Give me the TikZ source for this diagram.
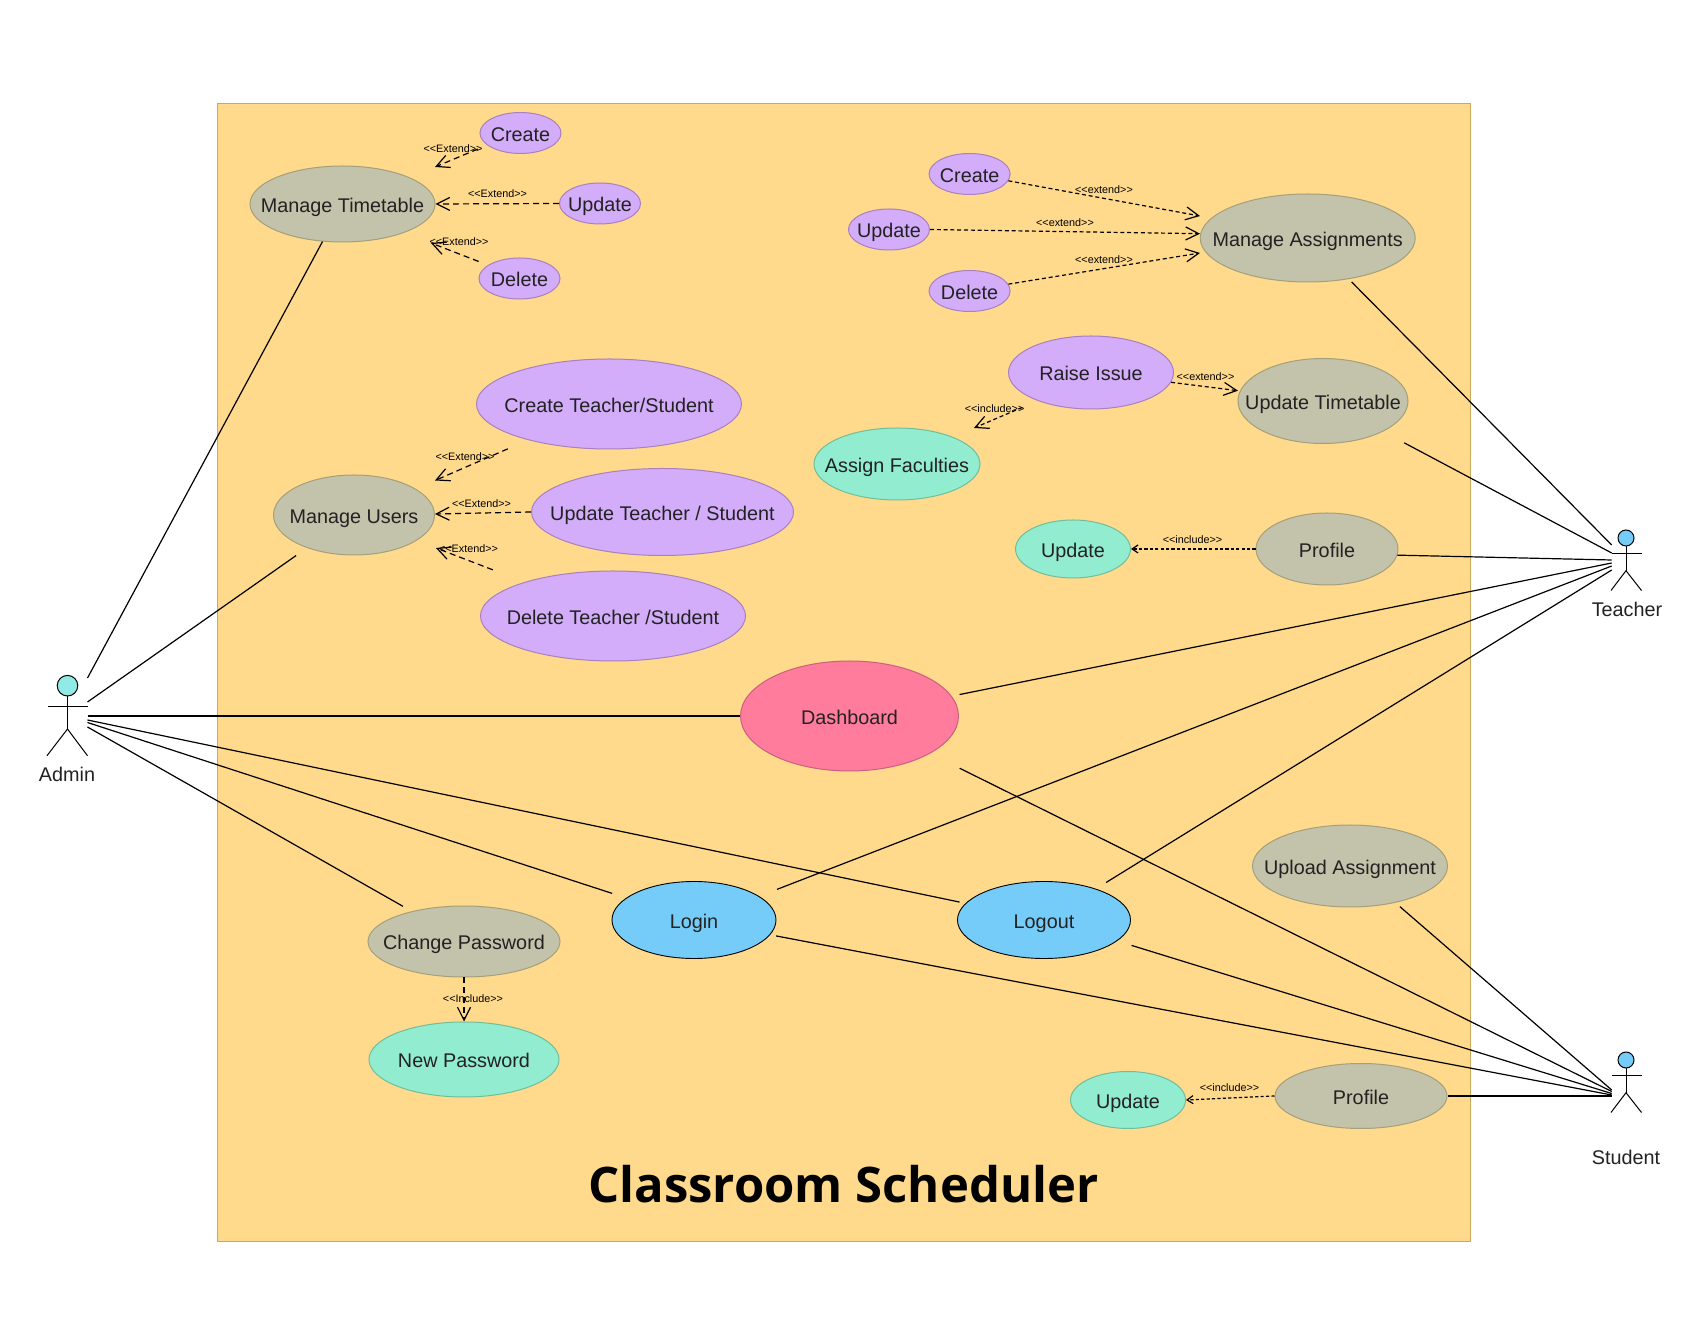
\documentclass[tikz,border=0pt]{standalone}
\usepackage{fontspec}
\setmainfont{Liberation Sans}
\newfontfamily\titlefont{Open Sans}
\usetikzlibrary{shapes.geometric,arrows.meta}

\definecolor{boardfill}{HTML}{FFD98C}
\definecolor{boardline}{HTML}{C9A95E}
\definecolor{grayfill}{HTML}{C3C2AB}
\definecolor{grayline}{HTML}{A3A07A}
\definecolor{purplefill}{HTML}{D3ADF9}
\definecolor{purpleline}{HTML}{A881BE}
\definecolor{greenfill}{HTML}{92ECCF}
\definecolor{greenline}{HTML}{71BE9B}
\definecolor{pinkfill}{HTML}{FF7C9C}
\definecolor{pinkline}{HTML}{C8607E}
\definecolor{bluefill}{HTML}{76CCF8}
\definecolor{headfill}{HTML}{92EAE6}
\definecolor{inktext}{HTML}{222222}

\newcommand{\uctext}[1]{\raisebox{-4.1pt}[0pt][0pt]{\makebox[0pt]{#1}}}
\newcommand{\stereo}[1]{<\kern0pt<#1>\kern0pt>}

\tikzset{
    usecase/.style={ellipse,inner sep=0pt,line width=0.5pt,text=inktext,font=\fontsize{9.9}{12}\selectfont},
    graycase/.style={usecase,draw=grayline,fill=grayfill},
    purplecase/.style={usecase,draw=purpleline,fill=purplefill},
    greencase/.style={usecase,draw=greenline,fill=greenfill},
    pinkcase/.style={usecase,draw=pinkline,fill=pinkfill},
    bluecase/.style={usecase,draw=black,fill=bluefill,line width=0.45pt},
    assoc/.style={line width=0.6pt,black},
    dep/.style={line width=0.6pt,black,dash pattern=on 3pt off 2pt,-{Straight Barb[length=6.5pt,width=6.5pt]}},
    depfine/.style={line width=0.6pt,black,dash pattern=on 2pt off 1.4pt,-{Straight Barb[length=6.5pt,width=6.5pt]}},
    depsmall/.style={line width=0.6pt,black,dash pattern=on 1.6pt off 1.1pt,-{Straight Barb[length=3pt,width=4pt]}},
    deplabel/.style={inner sep=0pt,font=\fontsize{5.4}{6}\selectfont},
    actorname/.style={inner sep=0pt,text=inktext,font=\fontsize{9.9}{12}\selectfont},
    limb/.style={line width=0.5pt,black}
}

\begin{document}
\begin{tikzpicture}[x=0.5pt,y=-0.5pt]

    \path[fill=white,use as bounding box] (0,0) rectangle (1705,1325);
    \draw[fill=boardfill,draw=boardline,line width=0.5pt] (217,104) rectangle (1470,1242);

    % timetable group
    \node[graycase,minimum width=92.5pt,minimum height=38pt] (timetable) at (342.5,204) {\uctext{Manage Timetable}};
    \node[purplecase,minimum width=40.5pt,minimum height=20.5pt] (createa) at (520.5,133) {\uctext{Create}};
    \node[purplecase,minimum width=40.5pt,minimum height=20.5pt] (updatea) at (600,203.5) {\uctext{Update}};
    \node[purplecase,minimum width=40.5pt,minimum height=20.5pt] (deletea) at (519.5,278.5) {\uctext{Delete}};

    % users group
    \node[graycase,minimum width=80.5pt,minimum height=40pt] (users) at (354,515) {\uctext{Manage Users}};
    \node[purplecase,minimum width=132.5pt,minimum height=45pt] (createb) at (609,404) {\uctext{Create Teacher/Student}};
    \node[purplecase,minimum width=131pt,minimum height=43.5pt] (updateb) at (662.5,512) {\uctext{Update Teacher / Student}};
    \node[purplecase,minimum width=132.5pt,minimum height=45pt] (deleteb) at (613,616) {\uctext{Delete Teacher /Student}};

    % assignments group
    \node[graycase,minimum width=107.5pt,minimum height=44pt] (assign) at (1307.7,238) {\uctext{Manage Assignments}};
    \node[purplecase,minimum width=40.5pt,minimum height=20.5pt] (createc) at (969.6,174) {\uctext{Create}};
    \node[purplecase,minimum width=40.5pt,minimum height=20.5pt] (updatec) at (889,229.5) {\uctext{Update}};
    \node[purplecase,minimum width=40.5pt,minimum height=20.5pt] (deletec) at (969.6,291) {\uctext{Delete}};

    \node[purplecase,minimum width=82.5pt,minimum height=36.5pt] (raise) at (1091,372.5) {\uctext{Raise Issue}};
    \node[graycase,minimum width=85pt,minimum height=42.5pt] (updtime) at (1323,401) {\uctext{Update Timetable}};
    \node[greencase,minimum width=83pt,minimum height=36pt] (faculty) at (897,464) {\uctext{Assign Faculties}};
    \node[greencase,minimum width=57.5pt,minimum height=29pt] (updated) at (1073,549) {\uctext{Update}};
    \node[graycase,minimum width=71pt,minimum height=36pt] (profilea) at (1327,549) {\uctext{Profile}};

    % middle
    \node[pinkcase,minimum width=109pt,minimum height=55pt] (dash) at (849.5,716) {\uctext{Dashboard}};
    \node[bluecase,minimum width=82pt,minimum height=38.5pt] (login) at (694,920) {\uctext{Login}};
    \node[bluecase,minimum width=86.5pt,minimum height=38.5pt] (logout) at (1044,920) {\uctext{Logout}};
    \node[graycase,minimum width=96pt,minimum height=35.5pt] (change) at (464,941.5) {\uctext{Change Password}};
    \node[greencase,minimum width=95pt,minimum height=37.5pt] (newpass) at (464,1059.5) {\uctext{New Password}};
    \node[graycase,minimum width=97.5pt,minimum height=41pt] (upload) at (1350,866) {\uctext{Upload Assignment}};
    \node[graycase,minimum width=86pt,minimum height=32.5pt] (profileb) at (1361,1096) {\uctext{Profile}};
    \node[greencase,minimum width=57.5pt,minimum height=28.5pt] (updatee) at (1128,1100) {\uctext{Update}};

    \node[inner sep=0pt,font=\titlefont\fontsize{24.5}{30}\selectfont\bfseries] (title) at (843.5,1184) {Classroom Scheduler};

    % actors
    \node[circle,draw=black,fill=headfill,line width=0.5pt,minimum size=10.3pt,inner sep=0pt] (adminhead) at (67.5,685.7) {};
    \coordinate (adminhip) at (67.5,729);
    \draw[limb] (adminhead) -- (adminhip);
    \draw[limb] (47.5,707) -- (87.5,707);
    \draw[limb] (47,755.7) -- (adminhip) -- (87.5,755.7);
    \node[actorname] (admin) at (67,774) {Admin};

    \foreach \who/\yy in {teacher/538,student/1060}{
        \node[circle,draw=black,fill=bluefill,line width=0.5pt,minimum size=8pt,inner sep=0pt] (\who head) at (1626,\yy) {};
        \coordinate (\who hip) at (1626,\yy+32.7);
        \draw[limb] (\who head) -- (\who hip);
        \draw[limb] (1611.5,\yy+16) -- (1641.5,\yy+16);
        \draw[limb] (1611,\yy+52.5) -- (\who hip) -- (1641.5,\yy+52.5);
    }
    \node[actorname] (teacher) at (1627,609) {Teacher};
    \node[actorname] (student) at (1626,1157) {Student};

    % free ends beside the actors
    \coordinate (ada) at (87.5,678);
    \coordinate (adb) at (87.5,702);
    \coordinate (adc) at (87.5,716);
    \coordinate (add) at (87.5,720);
    \coordinate (ade) at (87.5,722.5);
    \coordinate (adf) at (87.5,727);
    \coordinate (tea) at (1611.7,545);
    \coordinate (teb) at (1611.7,553);
    \coordinate (tec) at (1611.7,560);
    \coordinate (ted) at (1611.7,563);
    \coordinate (tee) at (1611.7,566);
    \coordinate (tef) at (1611.7,570);
    \coordinate (sta) at (1611.7,1090);
    \coordinate (stb) at (1611.7,1091.5);
    \coordinate (stc) at (1611.7,1093.5);
    \coordinate (std) at (1611.7,1095);
    \coordinate (ste) at (1611.7,1096);

    \draw[assoc] (ada) -- (timetable.242);
    \draw[assoc,shorten >=6.6pt] (adb) -- (users.215.7);
    \draw[assoc] (adc) -- (dash.west);
    \draw[assoc,shorten >=3pt] (add) -- (logout.168);
    \draw[assoc,shorten >=7.3pt] (ade) -- (login.162);
    \draw[assoc,shorten >=5pt] (adf) -- (change.150.6);

    \draw[assoc,shorten >=2pt] (tea) -- (assign.315);
    \draw[assoc,shorten >=12pt] (teb) -- (updtime.333);
    \draw[assoc] (tec) -- (profilea.355);
    \draw[assoc,shorten >=4pt] (ted) -- (dash.11.8);
    \draw[assoc,shorten >=9.5pt] (tee) -- (login.20.6);
    \draw[assoc,shorten >=6pt] (tef) -- (logout.31.3);

    \draw[assoc,shorten >=3pt] (sta) -- (upload.-39.4);
    \draw[assoc,shorten >=16.5pt] (stb) -- (dash.-25.8);
    \draw[assoc,shorten >=7.5pt] (stc) -- (logout.-16.5);
    \draw[assoc,shorten >=3pt] (std) -- (login.-11);
    \draw[assoc] (ste) -- (profileb.east);

    % free arrow tips
    \coordinate (tipa) at (435,167);
    \coordinate (tipb) at (431,243);
    \coordinate (tipc) at (435,480.5);
    \coordinate (tipd) at (435,514);
    \coordinate (tipe) at (436,548);
    \coordinate (tipf) at (1200,216);
    \coordinate (tipg) at (1200,233.7);
    \coordinate (tiph) at (1200,253);
    \coordinate (tipi) at (1238,390.7);
    \coordinate (tipj) at (974,428);

    \draw[dep,shorten <=5pt] (createa.200) -- (tipa);
    \draw[dep] (updatea.west) -- (timetable.east);
    \draw[dep,shorten <=5pt] (deletea.157.4) -- (tipb);
    \draw[dep,shorten <=11pt] (createb.204) -- (tipc);
    \draw[dep] (updateb.west) -- (tipd);
    \draw[dep,shorten <=17pt] (deleteb.159) -- (tipe);
    \draw[depfine] (createc.-10) -- (tipf);
    \draw[depfine] (updatec.east) -- (tipg);
    \draw[depfine] (deletec.10) -- (tiph);
    \draw[depfine] (raise.-7) -- (tipi);
    \draw[depfine,shorten <=8.5pt] (raise.208.6) -- (tipj);
    \draw[depsmall] (profilea.west) -- (updated.east);
    \draw[depsmall] (profileb.west) -- (updatee.east);
    \draw[dep] (change.south) -- (newpass.north);

    \node[deplabel] (exta) at (453,149) {\stereo{Extend}};
    \node[deplabel] (extb) at (497.5,194) {\stereo{Extend}};
    \node[deplabel] (extc) at (459,242) {\stereo{Extend}};
    \node[deplabel] (extd) at (465,456.5) {\stereo{Extend}};
    \node[deplabel] (exte) at (481.5,504) {\stereo{Extend}};
    \node[deplabel] (extf) at (468.5,549) {\stereo{Extend}};
    \node[deplabel] (extg) at (1104,190) {\stereo{extend}};
    \node[deplabel] (exth) at (1065,223) {\stereo{extend}};
    \node[deplabel] (exti) at (1104,260) {\stereo{extend}};
    \node[deplabel] (extj) at (1205.5,377) {\stereo{extend}};
    \node[deplabel] (inca) at (994.6,409) {\stereo{include}};
    \node[deplabel] (incb) at (1192.5,540) {\stereo{include}};
    \node[deplabel] (incc) at (1229.5,1088) {\stereo{include}};
    \node[deplabel] (incd) at (473,999) {\stereo{Include}};

\end{tikzpicture}
\end{document}
